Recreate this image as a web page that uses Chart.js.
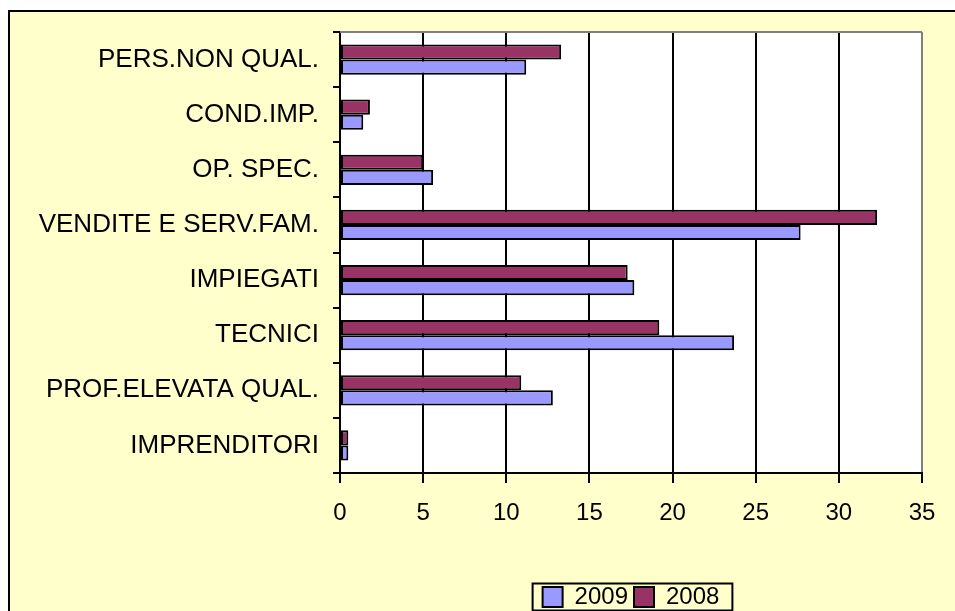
<!DOCTYPE html>
<html>
<head>
<meta charset="utf-8">
<script src="https://cdn.jsdelivr.net/npm/chart.js@4.4.1/dist/chart.umd.min.js"></script>
<style>
    html, body { margin: 0; padding: 0; background: #fff; }
    #wrap { width: 955px; height: 611px; }
</style>
</head>
<body>
<div id="wrap"><canvas id="chart" width="955" height="611"></canvas></div>
<script>
// categorie professionali, dall'alto in basso
const categories = ['PERS.NON QUAL.', 'COND.IMP.', 'OP. SPEC.', 'VENDITE E SERV.FAM.', 'IMPIEGATI', 'TECNICI', 'PROF.ELEVATA QUAL.', 'IMPRENDITORI'];
const values2008 = [13.3, 1.8, 5.0, 32.3, 17.3, 19.2, 10.9, 0.5];
const values2009 = [11.2, 1.4, 5.6, 27.7, 17.7, 23.7, 12.8, 0.5];
const xTicks = [0, 5, 10, 15, 20, 25, 30, 35];

const FONT = "'Liberation Sans', Arial, sans-serif";
const LEGEND_PAD = 6;

// sfondo giallo con cornice, area del grafico bianca
const backgroundPlugin = {
    id: 'sfondo',
    beforeDraw(chart) {
        const ctx = chart.ctx;
        const a = chart.chartArea;
        ctx.save();
        ctx.fillStyle = '#ffffff';
        ctx.fillRect(0, 0, chart.width, chart.height);
        ctx.fillStyle = '#ffffcc';
        ctx.fillRect(9, 11, chart.width - 9, chart.height - 11);
        ctx.strokeStyle = '#000000';
        ctx.lineWidth = 2;
        ctx.beginPath();
        ctx.moveTo(9, chart.height);
        ctx.lineTo(9, 11);
        ctx.lineTo(chart.width, 11);
        ctx.stroke();
        ctx.fillStyle = '#ffffff';
        ctx.fillRect(a.left, a.top, a.right - a.left, a.bottom - a.top);
        ctx.restore();
    },
    beforeDatasetsDraw(chart) {
        // bordo superiore grigio
        const ctx = chart.ctx;
        const a = chart.chartArea;
        ctx.save();
        ctx.strokeStyle = '#808080';
        ctx.lineWidth = 2;
        ctx.beginPath();
        ctx.moveTo(a.left, a.top);
        ctx.lineTo(a.right, a.top);
        ctx.stroke();
        ctx.restore();
    },
    afterDraw(chart) {
        // riquadro attorno alla legenda
        const boxes = chart.legend.legendHitBoxes;
        if (!boxes || !boxes.length) return;
        const left = Math.min(...boxes.map(b => b.left)) - 10;
        const right = Math.max(...boxes.map(b => b.left + b.width)) + 13;
        const mid = chart.legend.top + LEGEND_PAD + 12;
        const ctx = chart.ctx;
        ctx.save();
        ctx.strokeStyle = '#000000';
        ctx.lineWidth = 2;
        ctx.strokeRect(left, mid - 13.5, right - left, 27);
        ctx.restore();
    }
};

const ctx = document.getElementById('chart').getContext('2d');
const myChart = new Chart(ctx, {
    type: 'bar',
    data: {
        labels: categories,
        datasets: [{
            label: '2008',
            data: values2008,
            backgroundColor: '#993366',
            borderColor: '#000000',
            borderWidth: 2,
            borderSkipped: false
        }, {
            label: '2009',
            data: values2009,
            backgroundColor: '#9999ff',
            borderColor: '#000000',
            borderWidth: 2,
            borderSkipped: false
        }]
    },
    options: {
        indexAxis: 'y',
        responsive: false,
        animation: false,
        categoryPercentage: 0.55,
        barPercentage: 1.0,
        layout: {
            // la legenda ha 10px vuoti sotto: li spingo fuori dal canvas
            padding: {top: 32, right: 33, left: 0, bottom: -8}
        },
        scales: {
            x: {
                min: 0,
                max: 35,
                afterBuildTicks(scale) {
                    scale.ticks = xTicks.map(v => ({value: v}));
                },
                afterFit(scale) {
                    scale.height = 106;
                },
                grid: {
                    color: c => (c.tick && c.tick.value === 35) ? '#808080' : '#000000',
                    lineWidth: 2,
                    tickLength: 10,
                    tickColor: '#000000'
                },
                border: {color: '#000000', width: 2},
                ticks: {
                    color: '#000000',
                    font: {family: FONT, size: 24},
                    padding: 16,
                    maxRotation: 0
                }
            },
            y: {
                afterFit(scale) {
                    scale.width = 340;
                },
                grid: {
                    drawOnChartArea: false,
                    offset: true,
                    color: '#000000',
                    lineWidth: 2,
                    tickLength: 7
                },
                border: {color: '#000000', width: 2},
                ticks: {
                    color: '#000000',
                    font: {family: FONT, size: 26},
                    padding: 14,
                    autoSkip: false
                }
            }
        },
        plugins: {
            legend: {
                position: 'bottom',
                fullSize: false,
                reverse: true,
                labels: {
                    color: '#000000',
                    font: {family: FONT, size: 24},
                    boxWidth: 20,
                    boxHeight: 20,
                    padding: LEGEND_PAD
                }
            },
            tooltip: {enabled: false}
        }
    },
    plugins: [backgroundPlugin]
});
</script>
</body>
</html>
